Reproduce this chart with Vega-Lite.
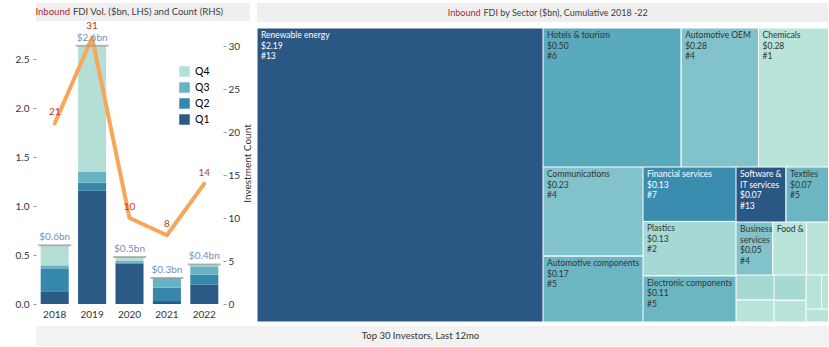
{
  "$schema": "https://vega.github.io/schema/vega-lite/v6.json",
  "background": "white",
  "padding": {"left": 5, "top": 3, "right": 0, "bottom": 0},
  "config": {
    "view": {"stroke": null},
    "font": "Lato",
    "text": {"font": "Lato"},
    "axis": {"labelFont": "Lato", "titleFont": "Lato", "labelColor": "#333333", "titleColor": "#333333", "grid": false, "domain": false},
    "legend": {"labelFont": "Lato"}
  },
  "datasets": {
    "bars": [
      {"year": "2018", "quarter": "Q1", "value": 0.13},
      {"year": "2018", "quarter": "Q2", "value": 0.235},
      {"year": "2018", "quarter": "Q3", "value": 0.03},
      {"year": "2018", "quarter": "Q4", "value": 0.205},
      {"year": "2019", "quarter": "Q1", "value": 1.16},
      {"year": "2019", "quarter": "Q2", "value": 0.08},
      {"year": "2019", "quarter": "Q3", "value": 0.11},
      {"year": "2019", "quarter": "Q4", "value": 1.29},
      {"year": "2020", "quarter": "Q1", "value": 0.415},
      {"year": "2020", "quarter": "Q2", "value": 0.01},
      {"year": "2020", "quarter": "Q3", "value": 0.015},
      {"year": "2020", "quarter": "Q4", "value": 0.04},
      {"year": "2021", "quarter": "Q1", "value": 0.03},
      {"year": "2021", "quarter": "Q2", "value": 0.137},
      {"year": "2021", "quarter": "Q3", "value": 0.1},
      {"year": "2022", "quarter": "Q1", "value": 0.2},
      {"year": "2022", "quarter": "Q2", "value": 0.1},
      {"year": "2022", "quarter": "Q3", "value": 0.085},
      {"year": "2022", "quarter": "Q4", "value": 0.02}
    ],
    "counts": [
      {"year": "2018", "count": 21},
      {"year": "2019", "count": 31},
      {"year": "2020", "count": 10},
      {"year": "2021", "count": 8},
      {"year": "2022", "count": 14}
    ],
    "sectors": [
      {"sector": "Renewable energy", "value": 2.19, "count": 13},
      {"sector": "Hotels & tourism", "value": 0.50, "count": 6},
      {"sector": "Automotive OEM", "value": 0.28, "count": 4},
      {"sector": "Chemicals", "value": 0.28, "count": 1},
      {"sector": "Communications", "value": 0.23, "count": 4},
      {"sector": "Automotive components", "value": 0.17, "count": 5},
      {"sector": "Financial services", "value": 0.13, "count": 7},
      {"sector": "Plastics", "value": 0.13, "count": 2},
      {"sector": "Electronic components", "value": 0.11, "count": 5},
      {"sector": "Software &\nIT services", "value": 0.07, "count": 13},
      {"sector": "Textiles", "value": 0.07, "count": 5},
      {"sector": "Business\nservices", "value": 0.05, "count": 4},
      {"sector": "Food &\ntobacco", "value": 0.046, "count": 1},
      {"sector": "Other 1", "value": 0.04, "count": 1},
      {"sector": "Other 2", "value": 0.025, "count": 2},
      {"sector": "Other 3", "value": 0.022, "count": 1},
      {"sector": "Other 4", "value": 0.021, "count": 2},
      {"sector": "Other 5", "value": 0.018, "count": 1},
      {"sector": "Other 6", "value": 0.013, "count": 1},
      {"sector": "Other 7", "value": 0.012, "count": 1},
      {"sector": "Other 8", "value": 0.01, "count": 1}
    ]
  },
  "resolve": {"scale": {"color": "independent"}},
  "spacing": 4,
  "vconcat": [
    {
      "resolve": {"scale": {"color": "independent"}},
      "spacing": 4,
      "hconcat": [
        {
          "spacing": 0,
          "vconcat": [
            {
              "width": 214, "height": 18,
              "view": {"fill": "#efefef", "stroke": null},
              "data": {"values": [{}]},
              "layer": [
                {"mark": {"type": "text", "align": "right", "dx": -73, "fontSize": 9.5, "color": "#b3262e"}, "encoding": {"text": {"value": "Inbound"}}},
                {"mark": {"type": "text", "align": "left", "dx": -70, "fontSize": 9.5, "color": "#404040"}, "encoding": {"text": {"value": "FDI Vol. ($bn, LHS) and Count (RHS)"}}}
              ]
            },
            {
              "width": 187, "height": 282,
              "layer": [
                {
                  "data": {"name": "bars"},
                  "mark": {"type": "bar"},
                  "encoding": {
                    "x": {"field": "year", "type": "ordinal", "scale": {"paddingInner": 0.25, "paddingOuter": 0.125}, "axis": {"title": null, "labelAngle": 0, "ticks": false, "domain": false, "labelFontSize": 10, "labelPadding": 5}},
                    "y": {"aggregate": "sum", "field": "value", "type": "quantitative", "stack": "zero", "title": null, "scale": {"domain": [0, 2.883], "nice": false}, "axis": {"title": null, "values": [0, 0.5, 1, 1.5, 2, 2.5], "format": ".1f", "tickSize": 3, "tickColor": "#999999", "labelPadding": 4, "labelFontSize": 10, "minExtent": 31, "maxExtent": 31}},
                    "color": {"field": "quarter", "type": "nominal", "scale": {"domain": ["Q4", "Q3", "Q2", "Q1"], "range": ["#b3dfd6", "#68b3c3", "#3588ab", "#2c5a86"]}, "legend": {"title": null, "orient": "none", "legendX": 143, "legendY": 63, "symbolType": "square", "symbolSize": 110, "symbolStrokeWidth": 0, "labelFontSize": 10.5, "rowPadding": 5, "labelOffset": 5}},
                    "order": {"field": "quarter", "sort": "ascending"}
                  }
                },
                {
                  "data": {"name": "counts"},
                  "layer": [
                    {"mark": {"type": "line", "color": "#f7a65a", "strokeWidth": 4, "strokeJoin": "round", "strokeCap": "round"}, "encoding": {"x": {"field": "year", "type": "ordinal"}, "y": {"field": "count", "type": "quantitative", "scale": {"domain": [0, 32.8], "nice": false}, "axis": {"orient": "right", "title": "Investment Count", "titleAngle": 270, "titleBaseline": "top", "titleFontSize": 10, "titleFontWeight": "normal", "titlePadding": 3, "values": [0, 5, 10, 15, 20, 25, 30], "tickSize": 3, "tickColor": "#999999", "labelPadding": 2, "labelFontSize": 10}}}},
                    {"mark": {"type": "text", "color": "#c0392b", "fontSize": 10, "dy": -11}, "encoding": {"x": {"field": "year", "type": "ordinal"}, "y": {"field": "count", "type": "quantitative"}, "text": {"field": "count"}}}
                  ]
                },
                {
                  "data": {"name": "bars"},
                  "transform": [
                    {"aggregate": [{"op": "sum", "field": "value", "as": "total"}], "groupby": ["year"]},
                    {"calculate": "'$' + format(datum.total, '.1f') + 'bn'", "as": "totalLabel"}
                  ],
                  "layer": [
                    {"mark": {"type": "tick", "color": "#9b9b9b", "thickness": 2, "size": 33}, "encoding": {"x": {"field": "year", "type": "ordinal"}, "y": {"field": "total", "type": "quantitative", "scale": {"domain": [0, 2.883], "nice": false}, "axis": null}}},
                    {"mark": {"type": "text", "color": "#7690b8", "fontSize": 10, "dy": -8}, "encoding": {"x": {"field": "year", "type": "ordinal"}, "y": {"field": "total", "type": "quantitative", "axis": null}, "text": {"field": "totalLabel"}}}
                  ]
                }
              ],
              "resolve": {"scale": {"y": "independent"}}
            }
          ]
        },
        {
          "spacing": 6,
          "vconcat": [
            {
              "width": 571, "height": 19,
              "view": {"fill": "#efefef", "stroke": null},
              "data": {"values": [{}]},
              "layer": [
                {"mark": {"type": "text", "align": "right", "dx": -62, "fontSize": 9, "color": "#b3262e"}, "encoding": {"text": {"value": "Inbound"}}},
                {"mark": {"type": "text", "align": "left", "dx": -59, "fontSize": 9, "color": "#404040"}, "encoding": {"text": {"value": "FDI by Sector ($bn), Cumulative  2018 -22"}}}
              ]
            },
            {
              "bounds": "flush",
              "spacing": 0,
              "hconcat": [
                {
                  "width": 286, "height": 294,
                  "data": {"name": "sectors"},
                  "transform": [
                    {"filter": {"field": "sector", "oneOf": ["Renewable energy"]}},
                    {"stack": "value", "groupby": [], "sort": [{"field": "value", "order": "descending"}, {"field": "sector", "order": "ascending"}], "offset": "normalize", "as": ["s0", "s1"]},
                    {"calculate": "indexof(datum.sector, 'Other') === 0 ? '' : (datum.value >= 0.05 ? datum.sector + '\\n$' + format(datum.value, '.2f') + '\\n#' + datum.count : split(datum.sector, '\\n')[0])", "as": "label"}
                  ],
                  "layer": [
                    {"mark": {"type": "rect", "stroke": "#ffffff", "strokeWidth": 1, "clip": true},
                     "encoding": {
                       "x": {"field": "s0", "type": "quantitative", "scale": {"domain": [0, 1], "nice": false, "zero": false}, "axis": null},
                       "x2": {"field": "s1"},
                       "y": {"datum": 0, "type": "quantitative", "scale": {"domain": [0, 1], "reverse": true, "nice": false}, "axis": null},
                       "y2": {"datum": 1},
                       "color": {"field": "count", "type": "quantitative", "scale": {"domain": [1, 2, 4, 5, 6, 7, 13], "range": ["#b9e4da", "#a6d9d3", "#82c2ca", "#6cb6c3", "#59aabd", "#3b8db0", "#2b5784"], "interpolate": "rgb"}, "legend": null}
                     }},
                    {"mark": {"type": "text", "align": "left", "baseline": "top", "dx": 4, "dy": 3, "fontSize": 8.5, "lineBreak": "\n", "lineHeight": 10.5},
                     "encoding": {
                       "x": {"field": "s0", "type": "quantitative", "axis": null},
                       "y": {"datum": 0, "type": "quantitative", "axis": null},
                       "text": {"field": "label"},
                       "color": {"condition": {"test": "datum.count >= 7", "value": "#ffffff"}, "value": "#333333"}
                     }}
                  ]
                },
                {
                  "bounds": "flush",
                  "spacing": 0,
                  "vconcat": [
                    {
                      "width": 285, "height": 139,
                      "data": {"name": "sectors"},
                      "transform": [
                        {"filter": {"field": "sector", "oneOf": ["Hotels & tourism", "Automotive OEM", "Chemicals"]}},
                        {"stack": "value", "groupby": [], "sort": [{"field": "value", "order": "descending"}, {"field": "sector", "order": "ascending"}], "offset": "normalize", "as": ["s0", "s1"]},
                        {"calculate": "indexof(datum.sector, 'Other') === 0 ? '' : (datum.value >= 0.05 ? datum.sector + '\\n$' + format(datum.value, '.2f') + '\\n#' + datum.count : split(datum.sector, '\\n')[0])", "as": "label"}
                      ],
                      "layer": [
                        {"mark": {"type": "rect", "stroke": "#ffffff", "strokeWidth": 1, "clip": true},
                         "encoding": {
                           "x": {"field": "s0", "type": "quantitative", "scale": {"domain": [0, 0.973], "nice": false, "zero": false}, "axis": null},
                           "x2": {"field": "s1"},
                           "y": {"datum": 0, "type": "quantitative", "scale": {"domain": [0, 1], "reverse": true, "nice": false}, "axis": null},
                           "y2": {"datum": 1},
                           "color": {"field": "count", "type": "quantitative", "scale": {"domain": [1, 2, 4, 5, 6, 7, 13], "range": ["#b9e4da", "#a6d9d3", "#82c2ca", "#6cb6c3", "#59aabd", "#3b8db0", "#2b5784"], "interpolate": "rgb"}, "legend": null}
                         }},
                        {"mark": {"type": "text", "align": "left", "baseline": "top", "dx": 4, "dy": 3, "fontSize": 8.5, "lineBreak": "\n", "lineHeight": 10.5},
                         "encoding": {
                           "x": {"field": "s0", "type": "quantitative", "axis": null},
                           "y": {"datum": 0, "type": "quantitative", "axis": null},
                           "text": {"field": "label"},
                           "color": {"condition": {"test": "datum.count >= 7", "value": "#ffffff"}, "value": "#333333"}
                         }}
                      ]
                    },
                    {
                      "bounds": "flush",
                      "spacing": 0,
                      "hconcat": [
                        {
                          "width": 100, "height": 155,
                          "data": {"name": "sectors"},
                          "transform": [
                            {"filter": {"field": "sector", "oneOf": ["Communications", "Automotive components"]}},
                            {"stack": "value", "groupby": [], "sort": [{"field": "value", "order": "descending"}, {"field": "sector", "order": "ascending"}], "offset": "normalize", "as": ["s0", "s1"]},
                            {"calculate": "indexof(datum.sector, 'Other') === 0 ? '' : (datum.value >= 0.05 ? datum.sector + '\\n$' + format(datum.value, '.2f') + '\\n#' + datum.count : split(datum.sector, '\\n')[0])", "as": "label"}
                          ],
                          "layer": [
                            {"mark": {"type": "rect", "stroke": "#ffffff", "strokeWidth": 1, "clip": true},
                             "encoding": {
                               "y": {"field": "s0", "type": "quantitative", "scale": {"domain": [0, 1], "reverse": true, "nice": false, "zero": false}, "axis": null},
                               "y2": {"field": "s1"},
                               "x": {"datum": 0, "type": "quantitative", "scale": {"domain": [0, 1], "nice": false}, "axis": null},
                               "x2": {"datum": 1},
                               "color": {"field": "count", "type": "quantitative", "scale": {"domain": [1, 2, 4, 5, 6, 7, 13], "range": ["#b9e4da", "#a6d9d3", "#82c2ca", "#6cb6c3", "#59aabd", "#3b8db0", "#2b5784"], "interpolate": "rgb"}, "legend": null}
                             }},
                            {"mark": {"type": "text", "align": "left", "baseline": "top", "dx": 4, "dy": 3, "fontSize": 8.5, "lineBreak": "\n", "lineHeight": 10.5},
                             "encoding": {
                               "y": {"field": "s0", "type": "quantitative", "axis": null},
                               "x": {"datum": 0, "type": "quantitative", "axis": null},
                               "text": {"field": "label"},
                               "color": {"condition": {"test": "datum.count >= 7", "value": "#ffffff"}, "value": "#333333"}
                             }}
                          ]
                        },
                        {
                          "width": 93, "height": 155,
                          "data": {"name": "sectors"},
                          "transform": [
                            {"filter": {"field": "sector", "oneOf": ["Financial services", "Plastics", "Electronic components"]}},
                            {"stack": "value", "groupby": [], "sort": [{"field": "value", "order": "descending"}, {"field": "sector", "order": "ascending"}], "offset": "normalize", "as": ["s0", "s1"]},
                            {"calculate": "indexof(datum.sector, 'Other') === 0 ? '' : (datum.value >= 0.05 ? datum.sector + '\\n$' + format(datum.value, '.2f') + '\\n#' + datum.count : split(datum.sector, '\\n')[0])", "as": "label"}
                          ],
                          "layer": [
                            {"mark": {"type": "rect", "stroke": "#ffffff", "strokeWidth": 1, "clip": true},
                             "encoding": {
                               "y": {"field": "s0", "type": "quantitative", "scale": {"domain": [0, 1], "reverse": true, "nice": false, "zero": false}, "axis": null},
                               "y2": {"field": "s1"},
                               "x": {"datum": 0, "type": "quantitative", "scale": {"domain": [0, 1], "nice": false}, "axis": null},
                               "x2": {"datum": 1},
                               "color": {"field": "count", "type": "quantitative", "scale": {"domain": [1, 2, 4, 5, 6, 7, 13], "range": ["#b9e4da", "#a6d9d3", "#82c2ca", "#6cb6c3", "#59aabd", "#3b8db0", "#2b5784"], "interpolate": "rgb"}, "legend": null}
                             }},
                            {"mark": {"type": "text", "align": "left", "baseline": "top", "dx": 4, "dy": 3, "fontSize": 8.5, "lineBreak": "\n", "lineHeight": 10.5},
                             "encoding": {
                               "y": {"field": "s0", "type": "quantitative", "axis": null},
                               "x": {"datum": 0, "type": "quantitative", "axis": null},
                               "text": {"field": "label"},
                               "color": {"condition": {"test": "datum.count >= 7", "value": "#ffffff"}, "value": "#333333"}
                             }}
                          ]
                        },
                        {
                          "bounds": "flush",
                          "spacing": 0,
                          "vconcat": [
                            {
                              "width": 92, "height": 55,
                              "data": {"name": "sectors"},
                              "transform": [
                                {"filter": {"field": "sector", "oneOf": ["Software &\nIT services", "Textiles"]}},
                                {"stack": "value", "groupby": [], "sort": [{"field": "value", "order": "descending"}, {"field": "sector", "order": "ascending"}], "offset": "normalize", "as": ["s0", "s1"]},
                                {"calculate": "indexof(datum.sector, 'Other') === 0 ? '' : (datum.value >= 0.05 ? datum.sector + '\\n$' + format(datum.value, '.2f') + '\\n#' + datum.count : split(datum.sector, '\\n')[0])", "as": "label"}
                              ],
                              "layer": [
                                {"mark": {"type": "rect", "stroke": "#ffffff", "strokeWidth": 1, "clip": true},
                                 "encoding": {
                                   "x": {"field": "s0", "type": "quantitative", "scale": {"domain": [0, 0.92], "nice": false, "zero": false}, "axis": null},
                                   "x2": {"field": "s1"},
                                   "y": {"datum": 0, "type": "quantitative", "scale": {"domain": [0, 1], "reverse": true, "nice": false}, "axis": null},
                                   "y2": {"datum": 1},
                                   "color": {"field": "count", "type": "quantitative", "scale": {"domain": [1, 2, 4, 5, 6, 7, 13], "range": ["#b9e4da", "#a6d9d3", "#82c2ca", "#6cb6c3", "#59aabd", "#3b8db0", "#2b5784"], "interpolate": "rgb"}, "legend": null}
                                 }},
                                {"mark": {"type": "text", "align": "left", "baseline": "top", "dx": 4, "dy": 3, "fontSize": 8.5, "lineBreak": "\n", "lineHeight": 10.5},
                                 "encoding": {
                                   "x": {"field": "s0", "type": "quantitative", "axis": null},
                                   "y": {"datum": 0, "type": "quantitative", "axis": null},
                                   "text": {"field": "label"},
                                   "color": {"condition": {"test": "datum.count >= 7", "value": "#ffffff"}, "value": "#333333"}
                                 }}
                              ]
                            },
                            {
                              "width": 92, "height": 53,
                              "data": {"name": "sectors"},
                              "transform": [
                                {"filter": {"field": "sector", "oneOf": ["Business\nservices", "Food &\ntobacco", "Other 1"]}},
                                {"stack": "value", "groupby": [], "sort": [{"field": "value", "order": "descending"}, {"field": "sector", "order": "ascending"}], "offset": "normalize", "as": ["s0", "s1"]},
                                {"calculate": "indexof(datum.sector, 'Other') === 0 ? '' : (datum.value >= 0.05 ? datum.sector + '\\n$' + format(datum.value, '.2f') + '\\n#' + datum.count : split(datum.sector, '\\n')[0])", "as": "label"}
                              ],
                              "layer": [
                                {"mark": {"type": "rect", "stroke": "#ffffff", "strokeWidth": 1, "clip": true},
                                 "encoding": {
                                   "x": {"field": "s0", "type": "quantitative", "scale": {"domain": [0, 0.92], "nice": false, "zero": false}, "axis": null},
                                   "x2": {"field": "s1"},
                                   "y": {"datum": 0, "type": "quantitative", "scale": {"domain": [0, 1], "reverse": true, "nice": false}, "axis": null},
                                   "y2": {"datum": 1},
                                   "color": {"field": "count", "type": "quantitative", "scale": {"domain": [1, 2, 4, 5, 6, 7, 13], "range": ["#b9e4da", "#a6d9d3", "#82c2ca", "#6cb6c3", "#59aabd", "#3b8db0", "#2b5784"], "interpolate": "rgb"}, "legend": null}
                                 }},
                                {"mark": {"type": "text", "align": "left", "baseline": "top", "dx": 4, "dy": 3, "fontSize": 8.5, "lineBreak": "\n", "lineHeight": 10.5},
                                 "encoding": {
                                   "x": {"field": "s0", "type": "quantitative", "axis": null},
                                   "y": {"datum": 0, "type": "quantitative", "axis": null},
                                   "text": {"field": "label"},
                                   "color": {"condition": {"test": "datum.count >= 7", "value": "#ffffff"}, "value": "#333333"}
                                 }}
                              ]
                            },
                            {
                              "bounds": "flush",
                              "spacing": 0,
                              "hconcat": [
                                {
                                  "width": 38, "height": 47,
                                  "data": {"name": "sectors"},
                                  "transform": [
                                    {"filter": {"field": "sector", "oneOf": ["Other 2", "Other 3"]}},
                                    {"stack": "value", "groupby": [], "sort": [{"field": "value", "order": "descending"}, {"field": "sector", "order": "ascending"}], "offset": "normalize", "as": ["s0", "s1"]}
                                  ],
                                  "mark": {"type": "rect", "stroke": "#ffffff", "strokeWidth": 1, "clip": true},
                                  "encoding": {
                                    "y": {"field": "s0", "type": "quantitative", "scale": {"domain": [0, 1], "reverse": true, "nice": false, "zero": false}, "axis": null},
                                    "y2": {"field": "s1"},
                                    "x": {"datum": 0, "type": "quantitative", "scale": {"domain": [0, 1], "nice": false}, "axis": null},
                                    "x2": {"datum": 1},
                                    "color": {"field": "count", "type": "quantitative", "scale": {"domain": [1, 2, 4, 5, 6, 7, 13], "range": ["#b9e4da", "#a6d9d3", "#82c2ca", "#6cb6c3", "#59aabd", "#3b8db0", "#2b5784"], "interpolate": "rgb"}, "legend": null}
                                  }
                                },
                                {
                                  "width": 32, "height": 47,
                                  "data": {"name": "sectors"},
                                  "transform": [
                                    {"filter": {"field": "sector", "oneOf": ["Other 4", "Other 5"]}},
                                    {"stack": "value", "groupby": [], "sort": [{"field": "value", "order": "descending"}, {"field": "sector", "order": "ascending"}], "offset": "normalize", "as": ["s0", "s1"]}
                                  ],
                                  "mark": {"type": "rect", "stroke": "#ffffff", "strokeWidth": 1, "clip": true},
                                  "encoding": {
                                    "y": {"field": "s0", "type": "quantitative", "scale": {"domain": [0, 1], "reverse": true, "nice": false, "zero": false}, "axis": null},
                                    "y2": {"field": "s1"},
                                    "x": {"datum": 0, "type": "quantitative", "scale": {"domain": [0, 1], "nice": false}, "axis": null},
                                    "x2": {"datum": 1},
                                    "color": {"field": "count", "type": "quantitative", "scale": {"domain": [1, 2, 4, 5, 6, 7, 13], "range": ["#b9e4da", "#a6d9d3", "#82c2ca", "#6cb6c3", "#59aabd", "#3b8db0", "#2b5784"], "interpolate": "rgb"}, "legend": null}
                                  }
                                },
                                {
                                  "bounds": "flush",
                                  "spacing": 0,
                                  "vconcat": [
                                    {
                                      "width": 22, "height": 34,
                                      "data": {"name": "sectors"},
                                      "transform": [
                                        {"filter": {"field": "sector", "oneOf": ["Other 6", "Other 7"]}},
                                        {"stack": "value", "groupby": [], "sort": [{"field": "value", "order": "descending"}, {"field": "sector", "order": "ascending"}], "offset": "normalize", "as": ["s0", "s1"]}
                                      ],
                                      "mark": {"type": "rect", "stroke": "#ffffff", "strokeWidth": 1, "clip": true},
                                      "encoding": {
                                        "x": {"field": "s0", "type": "quantitative", "scale": {"domain": [0, 0.733], "nice": false, "zero": false}, "axis": null},
                                        "x2": {"field": "s1"},
                                        "y": {"datum": 0, "type": "quantitative", "scale": {"domain": [0, 1], "reverse": true, "nice": false}, "axis": null},
                                        "y2": {"datum": 1},
                                        "color": {"field": "count", "type": "quantitative", "scale": {"domain": [1, 2, 4, 5, 6, 7, 13], "range": ["#b9e4da", "#a6d9d3", "#82c2ca", "#6cb6c3", "#59aabd", "#3b8db0", "#2b5784"], "interpolate": "rgb"}, "legend": null}
                                      }
                                    },
                                    {
                                      "width": 22, "height": 13,
                                      "data": {"name": "sectors"},
                                      "transform": [
                                        {"filter": {"field": "sector", "oneOf": ["Other 8"]}},
                                        {"stack": "value", "groupby": [], "sort": [{"field": "value", "order": "descending"}], "offset": "normalize", "as": ["s0", "s1"]}
                                      ],
                                      "mark": {"type": "rect", "stroke": "#ffffff", "strokeWidth": 1, "clip": true},
                                      "encoding": {
                                        "x": {"field": "s0", "type": "quantitative", "scale": {"domain": [0, 0.733], "nice": false, "zero": false}, "axis": null},
                                        "x2": {"field": "s1"},
                                        "y": {"datum": 0, "type": "quantitative", "scale": {"domain": [0, 1], "reverse": true, "nice": false}, "axis": null},
                                        "y2": {"datum": 1},
                                        "color": {"field": "count", "type": "quantitative", "scale": {"domain": [1, 2, 4, 5, 6, 7, 13], "range": ["#b9e4da", "#a6d9d3", "#82c2ca", "#6cb6c3", "#59aabd", "#3b8db0", "#2b5784"], "interpolate": "rgb"}, "legend": null}
                                      }
                                    }
                                  ]
                                }
                              ]
                            }
                          ]
                        }
                      ]
                    }
                  ]
                }
              ]
            }
          ]
        }
      ]
    },
    {
      "width": 793, "height": 20,
      "view": {"fill": "#f2f2f2", "stroke": null},
      "data": {"values": [{}]},
      "mark": {"type": "text", "dx": -12, "fontSize": 9.5, "color": "#333333"},
      "encoding": {"text": {"value": "Top 30 Investors, Last 12mo"}}
    }
  ]
}
